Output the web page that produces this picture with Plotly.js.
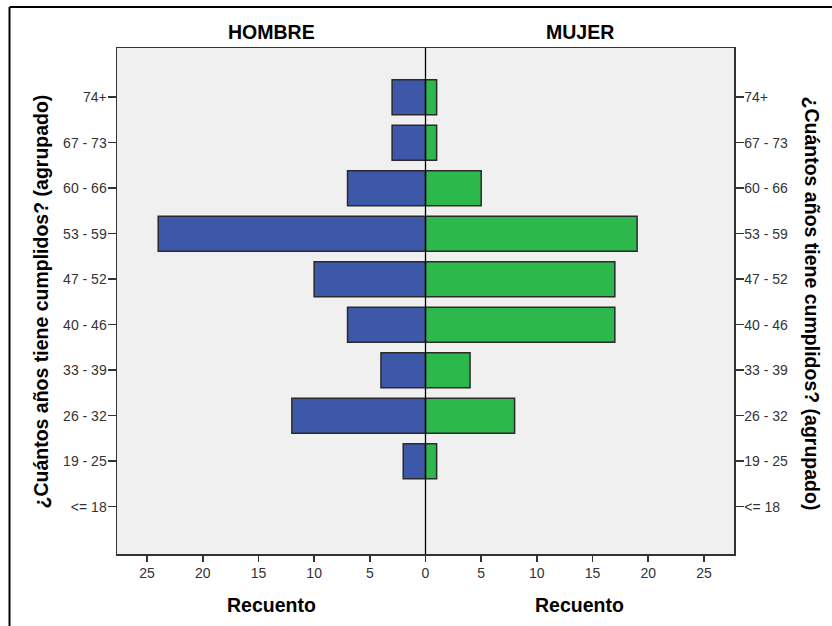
<!DOCTYPE html>
<html>
<head>
<meta charset="utf-8">
<script src="https://cdn.plot.ly/plotly-3.0.1.min.js"></script>
<style>html,body{margin:0;padding:0;background:#fff;overflow:hidden;}</style>
</head>
<body>
<div id="chart" style="width:832px;height:626px;"></div>
<script>
const categories = ["<= 18", "19 - 25", "26 - 32", "33 - 39", "40 - 46", "47 - 52", "53 - 59", "60 - 66", "67 - 73", "74+"];
const hombre = [0, 2, 12, 4, 7, 10, 24, 7, 3, 3];
const mujer = [0, 1, 8, 4, 17, 17, 19, 5, 1, 1];
const leftTicks = [5, 10, 15, 20, 25];
const rightTicks = [0, 5, 10, 15, 20, 25];
const panelTitles = ["HOMBRE", "MUJER"];
const xTitle = "Recuento";
const yTitle = "¿Cuántos años tiene cumplidos? (agrupado)";

const FONT = "Liberation Sans, Arial, sans-serif";
const tickFont = {family: FONT, size: 14, color: "#333"};
const titleFont = {family: FONT, size: 19.5, color: "#000", weight: "bold"};

// zero counts draw no bar
const nz = arr => arr.map(v => (v === 0 ? null : v));

const traces = [
  {type: "bar", orientation: "h", x: nz(hombre), y: categories, xaxis: "x", yaxis: "y",
   width: 0.77, marker: {color: "#3d57a9", line: {color: "#2a2a2a", width: 1.5}},
   hoverinfo: "x+y", showlegend: false},
  {type: "bar", orientation: "h", x: nz(mujer), y: categories, xaxis: "x2", yaxis: "y2",
   width: 0.77, marker: {color: "#2db84b", line: {color: "#2a2a2a", width: 1.5}},
   hoverinfo: "x+y", showlegend: false}
];

const xBase = {showgrid: false, zeroline: false, showline: true, mirror: true, linecolor: "#333", linewidth: 1.5,
  ticks: "outside", ticklen: 6, tickcolor: "#333", tickwidth: 1.5, tickfont: tickFont, fixedrange: true};
const yBase = {type: "category", categoryorder: "array", categoryarray: categories, range: [-1.04, 10.08],
  showgrid: false, zeroline: false, showline: true, linecolor: "#333", linewidth: 1.5,
  ticks: "outside", ticklen: 8, tickcolor: "#333", tickwidth: 1.5, tickfont: tickFont, fixedrange: true,
  ticklabelstandoff: -2};

const layout = {
  width: 832, height: 626,
  margin: {l: 117, r: 98, t: 48, b: 72, pad: 0},
  paper_bgcolor: "#fff", plot_bgcolor: "#f0f0f0",
  xaxis: Object.assign({}, xBase, {domain: [0, 0.5], range: [27.7, 0], tickvals: leftTicks, anchor: "y"}),
  xaxis2: Object.assign({}, xBase, {domain: [0.5, 1], range: [0, 27.7], tickvals: rightTicks, anchor: "y2"}),
  yaxis: Object.assign({}, yBase, {anchor: "x", side: "left"}),
  yaxis2: Object.assign({}, yBase, {anchor: "x2", side: "right"}),
  shapes: [
    {type: "rect", xref: "paper", yref: "paper", x0: 1.1459, x1: 1.2, y0: -0.2, y1: 1.07, fillcolor: "#fff", line: {width: 0}, layer: "above"},
    {type: "line", xref: "paper", yref: "paper", x0: 0.5, x1: 0.5, y0: 0, y1: 1, line: {color: "#000", width: 1.3}, layer: "above"},
    {type: "line", xref: "paper", yref: "paper", x0: -0.1742, x1: 1.16, y0: 1.081, y1: 1.081, line: {color: "#000", width: 2}},
    {type: "line", xref: "paper", yref: "paper", x0: -0.1742, x1: -0.1742, y0: -0.15, y1: 1.081, line: {color: "#000", width: 2}}
  ],
  annotations: [
    {text: panelTitles[0], xref: "paper", yref: "paper", x: 0.25, y: 1.0316, xanchor: "center", yanchor: "middle", showarrow: false, font: titleFont},
    {text: panelTitles[1], xref: "paper", yref: "paper", x: 0.75, y: 1.0316, xanchor: "center", yanchor: "middle", showarrow: false, font: titleFont},
    {text: xTitle, xref: "paper", yref: "paper", x: 0.25, y: -0.1002, xanchor: "center", yanchor: "middle", showarrow: false, font: titleFont},
    {text: xTitle, xref: "paper", yref: "paper", x: 0.75, y: -0.1002, xanchor: "center", yanchor: "middle", showarrow: false, font: titleFont},
    {text: yTitle, xref: "paper", yref: "paper", x: -0.1232, y: 0.499, xanchor: "center", yanchor: "middle", textangle: -90, showarrow: false, font: titleFont},
    {text: yTitle, xref: "paper", yref: "paper", x: 1.1264, y: 0.495, xanchor: "center", yanchor: "middle", textangle: 90, showarrow: false, font: titleFont}
  ]
};

Plotly.newPlot("chart", traces, layout, {displayModeBar: false, staticPlot: true});
</script>
</body>
</html>
